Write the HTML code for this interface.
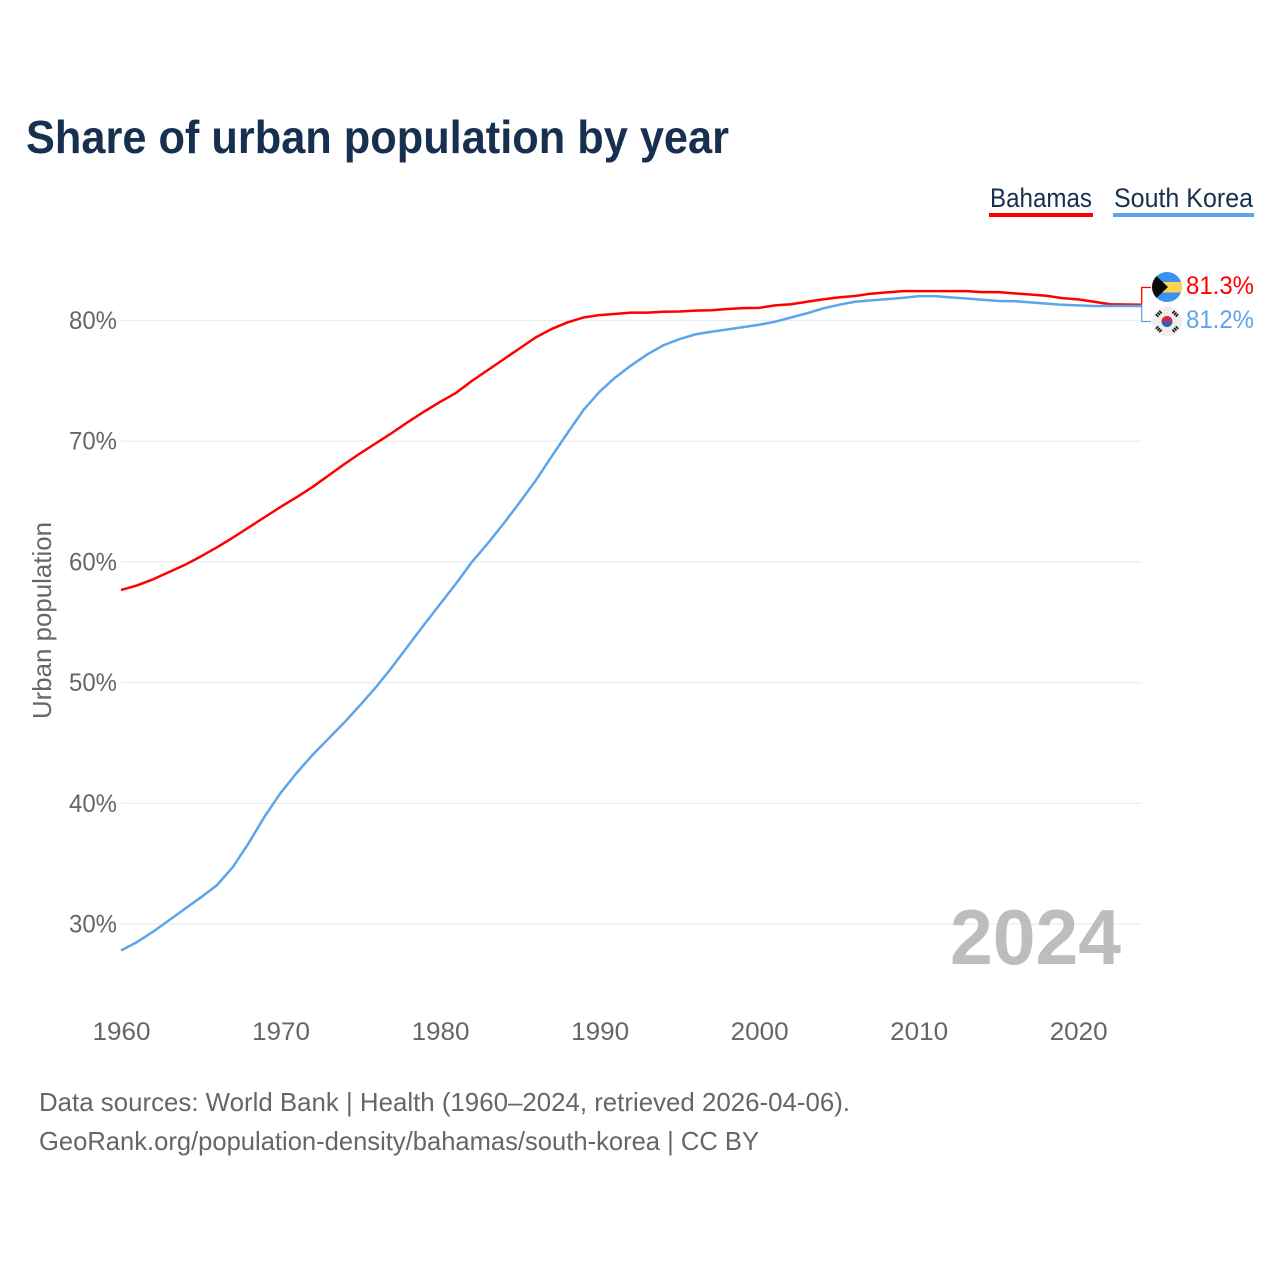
<!DOCTYPE html>
<html lang="en">
<head>
<meta charset="utf-8">
<title>Share of urban population by year</title>
<style>
html,body{margin:0;padding:0;background:#fff;width:1280px;height:1280px;overflow:hidden}
svg{display:block;font-family:"Liberation Sans",sans-serif}
</style>
</head>
<body>
<svg id="chart" xmlns="http://www.w3.org/2000/svg" width="1280" height="1280" viewBox="0 0 1280 1280">
  <rect width="1280" height="1280" fill="#fff"/>
  <text x="26" y="153" font-size="46" font-weight="700" fill="#17304f" textLength="703" lengthAdjust="spacingAndGlyphs">Share of urban population by year</text>
  <g>
    <text x="990" y="207" font-size="27" fill="#17304f" textLength="102" lengthAdjust="spacingAndGlyphs">Bahamas</text>
    <rect x="989" y="213" width="104" height="4" fill="#ff0000"/>
  </g>
  <g>
    <text x="1114" y="207" font-size="27" fill="#17304f" textLength="139" lengthAdjust="spacingAndGlyphs">South Korea</text>
    <rect x="1113" y="213" width="141" height="4" fill="#5ca5ec"/>
  </g>
  <g id="grid"></g>
  <g id="yticks"></g>
  <g id="xticks"></g>
  <text transform="translate(51,719) rotate(-90)" font-size="26" fill="#666" textLength="197" lengthAdjust="spacingAndGlyphs">Urban population</text>
  <text x="950" y="964" font-size="78" font-weight="700" fill="#bdbdbd" textLength="171" lengthAdjust="spacingAndGlyphs">2024</text>
  <path d="M1141.7 303.5V287.5H1151" fill="none" stroke="#ff0000" stroke-width="1.3"/>
  <path d="M1141.7 304.5V321.5H1151" fill="none" stroke="#5ca5ec" stroke-width="1.3"/>
  <g id="series"></g>
  <defs>
    <clipPath id="clipBs"><circle cx="1167" cy="287" r="15"/></clipPath>
    <clipPath id="clipKr"><circle cx="1167" cy="321.5" r="15"/></clipPath>
  </defs>
  <g clip-path="url(#clipBs)">
    <rect x="1152" y="272" width="30" height="30" fill="#3a93f0"/>
    <rect x="1152" y="282" width="30" height="10.5" fill="#fdd34f"/>
    <path d="M1150 270L1168 287L1150 304Z" fill="#0a0a0a"/>
  </g>
  <g clip-path="url(#clipKr)">
    <rect x="1152" y="306" width="30" height="31" fill="#eeeeee"/>
    <path d="M1161.5 321.5a5.5 5.5 0 0 1 11 0Z" fill="#e3223c"/>
    <path d="M1161.5 321.5a5.5 5.5 0 0 0 11 0Z" fill="#2b62b8"/>
    <g stroke="#111" stroke-width="3.5" stroke-dasharray="1.6 0.8">
      <path d="M1156.5 316L1161 311.5"/>
      <path d="M1173 311.5L1177.5 316"/>
      <path d="M1156.5 327L1161 331.5"/>
      <path d="M1173 331.5L1177.5 327"/>
    </g>
  </g>
  <text x="1186" y="294" font-size="25" fill="#ff0000" textLength="68" lengthAdjust="spacingAndGlyphs">81.3%</text>
  <text x="1186" y="328" font-size="25" fill="#5ca5ec" textLength="68" lengthAdjust="spacingAndGlyphs">81.2%</text>
  <text x="39" y="1111" font-size="26" fill="#666" textLength="811" lengthAdjust="spacingAndGlyphs">Data sources: World Bank | Health (1960–2024, retrieved 2026-04-06).</text>
  <text x="39" y="1150" font-size="26" fill="#666" textLength="720" lengthAdjust="spacingAndGlyphs">GeoRank.org/population-density/bahamas/south-korea | CC BY</text>
</svg>
<script>
const startYear = 1960;
const endYear = 2024;
const yTickValues = [30, 40, 50, 60, 70, 80];
const xTickValues = [1960, 1970, 1980, 1990, 2000, 2010, 2020];
const bahamasValues = [57.67,58.05,58.55,59.15,59.75,60.45,61.2,62.0,62.85,63.7,64.55,65.35,66.2,67.15,68.1,69.0,69.85,70.7,71.6,72.45,73.25,74.0,75.0,75.9,76.8,77.7,78.6,79.3,79.85,80.25,80.45,80.55,80.65,80.65,80.72,80.75,80.82,80.85,80.95,81.03,81.05,81.25,81.35,81.55,81.75,81.92,82.03,82.22,82.33,82.43,82.43,82.43,82.43,82.43,82.35,82.35,82.25,82.15,82.05,81.85,81.75,81.55,81.35,81.33,81.3];
const southKoreaValues = [27.8,28.5,29.35,30.3,31.25,32.2,33.2,34.7,36.7,38.9,40.85,42.5,44.0,45.35,46.7,48.15,49.65,51.3,53.05,54.8,56.5,58.2,60.0,61.55,63.2,64.95,66.75,68.75,70.7,72.6,74.1,75.3,76.3,77.2,77.95,78.45,78.85,79.07,79.25,79.45,79.65,79.9,80.25,80.6,81.0,81.3,81.55,81.67,81.77,81.87,82.02,82.02,81.92,81.82,81.72,81.62,81.6,81.5,81.4,81.3,81.25,81.2,81.2,81.2,81.2];

const NS = 'http://www.w3.org/2000/svg';
const plotLeft = 121, plotRight = 1142;
function xScale(year) { return plotLeft + (year - startYear) * (plotRight - plotLeft) / (endYear - startYear); }
function yScale(v) { return 320.5 + (80 - v) * 12.07; }
function linePath(values) {
  return values.map(function (v, i) {
    return (i ? 'L' : 'M') + xScale(startYear + i).toFixed(2) + ' ' + yScale(v).toFixed(2);
  }).join('');
}
const grid = document.getElementById('grid');
const yticks = document.getElementById('yticks');
const xticks = document.getElementById('xticks');
const series = document.getElementById('series');

yTickValues.forEach(function (v) {
  const ln = document.createElementNS(NS, 'line');
  
  
  ln.setAttribute('x1', plotLeft);
  ln.setAttribute('x2', plotRight);
  ln.setAttribute('y1', yScale(v));
  ln.setAttribute('y2', yScale(v));
  ln.setAttribute('stroke', '#ececec');
  ln.setAttribute('stroke-width', '1.2');
  grid.appendChild(ln);
  const t = document.createElementNS(NS, 'text');
  
  
  t.setAttribute('x', 69);
  t.setAttribute('y', yScale(v) + 8.5);
  t.setAttribute('font-size', '25');
  t.setAttribute('fill', '#666');
  t.setAttribute('textLength', '48');
  t.setAttribute('lengthAdjust', 'spacingAndGlyphs');
  t.textContent = v + '%';
  yticks.appendChild(t);
});
xTickValues.forEach(function (y) {
  const t = document.createElementNS(NS, 'text');
  
  
  t.setAttribute('x', xScale(y) - 28.5);
  t.setAttribute('y', 1040);
  t.setAttribute('font-size', '25');
  t.setAttribute('fill', '#666');
  t.setAttribute('textLength', '58');
  t.setAttribute('lengthAdjust', 'spacingAndGlyphs');
  t.textContent = y;
  xticks.appendChild(t);
});
const redLine = document.createElementNS(NS, 'path');


redLine.setAttribute('d', linePath(bahamasValues));
redLine.setAttribute('fill', 'none');
redLine.setAttribute('stroke', '#ff0000');
redLine.setAttribute('stroke-width', '2.5');
redLine.setAttribute('stroke-linejoin', 'round');
series.appendChild(redLine);
const blueLine = document.createElementNS(NS, 'path');


blueLine.setAttribute('d', linePath(southKoreaValues));
blueLine.setAttribute('fill', 'none');
blueLine.setAttribute('stroke', '#5ca5ec');
blueLine.setAttribute('stroke-width', '2.5');
blueLine.setAttribute('stroke-linejoin', 'round');
series.appendChild(blueLine);
</script>
</body>
</html>
